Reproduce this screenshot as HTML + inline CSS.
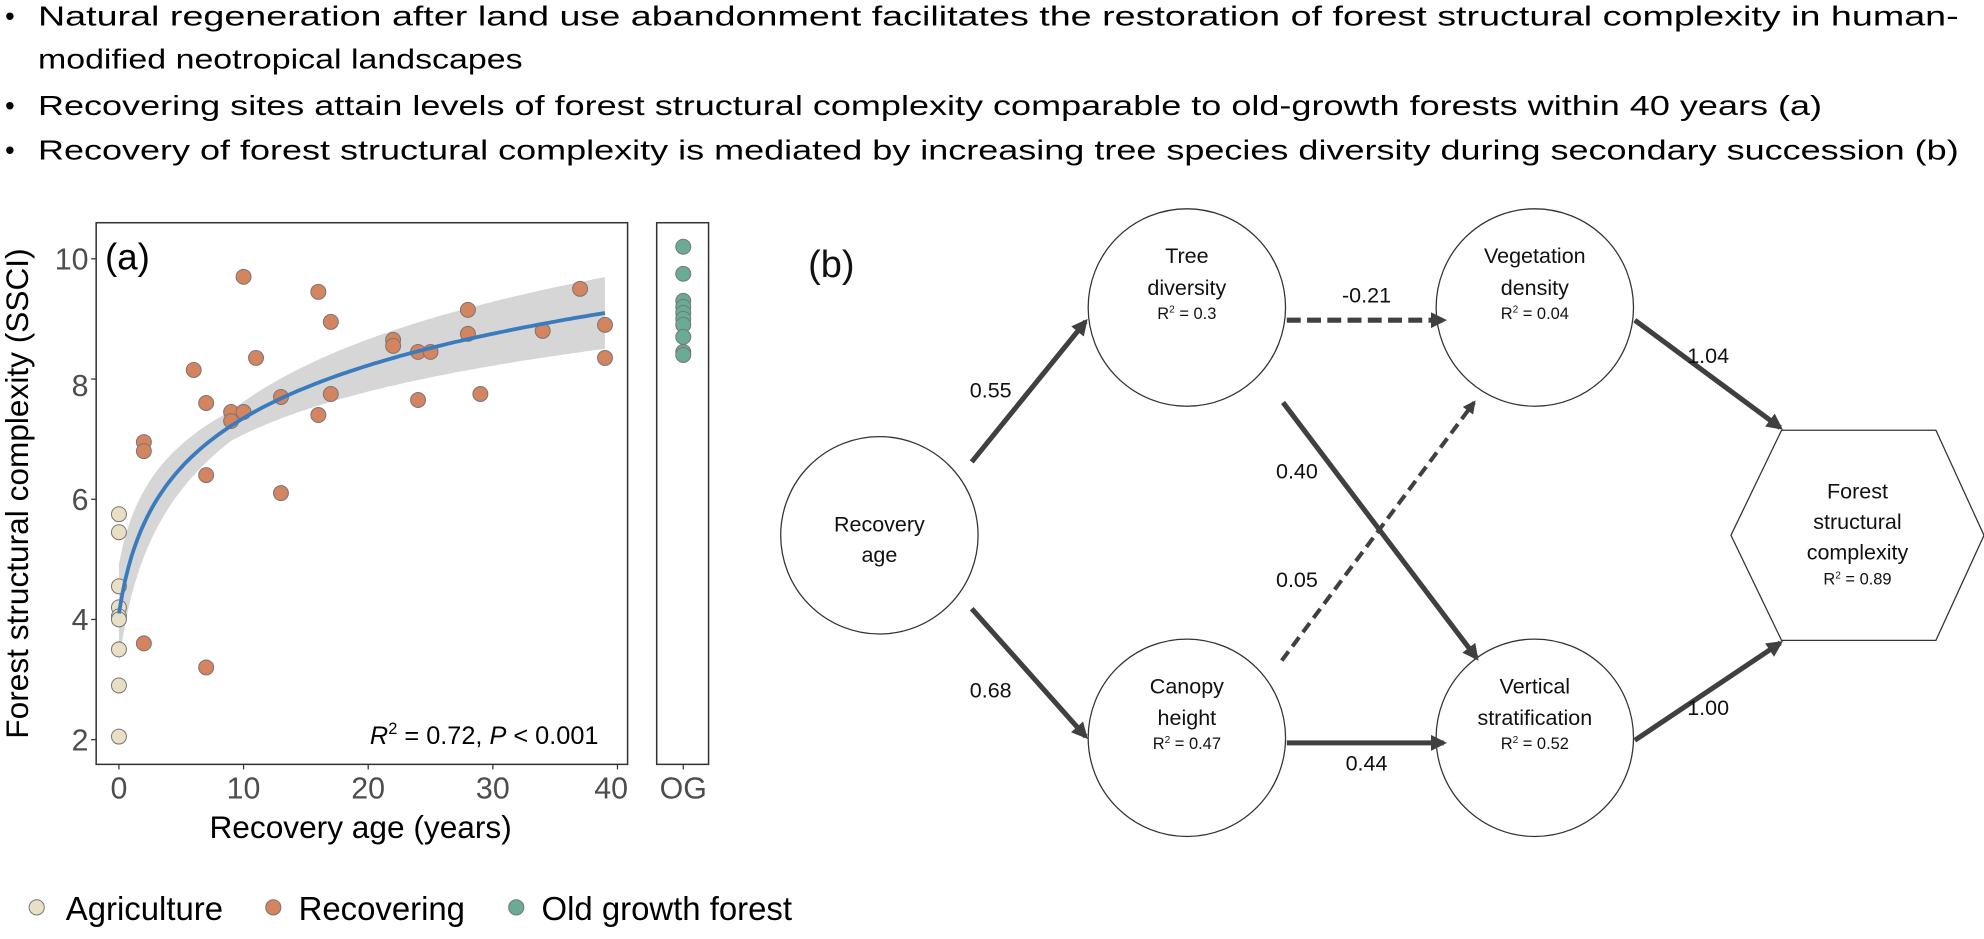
<!DOCTYPE html>
<html><head><meta charset="utf-8"><style>
html,body{margin:0;padding:0;background:#fff;}
svg{display:block;}
.n{font-family:"Liberation Sans",sans-serif;}
</style></head><body>
<svg width="1984" height="939" viewBox="0 0 1568 742" preserveAspectRatio="none" xmlns="http://www.w3.org/2000/svg">
<defs>
<marker id="ah" viewBox="0 0 10 10" refX="8" refY="5" markerWidth="3.2" markerHeight="3.2" orient="auto"><path d="M0,0 L10,5 L0,10 z" fill="#404040"/></marker>
</defs>
<g font-family="Liberation Sans, sans-serif" font-size="22" fill="#000">
<text x="4" y="20">•</text><text x="30" y="20" textLength="1518" lengthAdjust="spacingAndGlyphs">Natural regeneration after land use abandonment facilitates the restoration of forest structural complexity in human-</text>
<text x="30" y="54" textLength="383" lengthAdjust="spacingAndGlyphs">modified neotropical landscapes</text>
<text x="4" y="91">•</text><text x="30" y="91" textLength="1410" lengthAdjust="spacingAndGlyphs">Recovering sites attain levels of forest structural complexity comparable to old-growth forests within 40 years (a)</text>
<text x="4" y="126">•</text><text x="30" y="126" textLength="1518" lengthAdjust="spacingAndGlyphs">Recovery of forest structural complexity is mediated by increasing tree species diversity during secondary succession (b)</text>
</g>
<!-- panel a -->
<g font-family="Liberation Sans, sans-serif">
<path id="band" fill="#d6d6d6" d=""/>
<rect x="76" y="176" width="420" height="428" fill="none" stroke="#333" stroke-width="1.2"/>
<rect x="519" y="176" width="41" height="428" fill="none" stroke="#333" stroke-width="1.2"/>
<g id="pts"></g>
<text x="83" y="213" font-size="29">(a)</text>
<g font-size="24" fill="#4d4d4d" text-anchor="end">
<text x="70" y="213">10</text><text x="70" y="313">8</text><text x="70" y="403">6</text><text x="70" y="498">4</text><text x="70" y="593">2</text>
</g>
<g stroke="#333" stroke-width="1"><line x1="72" x2="76" y1="204.5" y2="204.5"/><line x1="72" x2="76" y1="299.5" y2="299.5"/><line x1="72" x2="76" y1="394.5" y2="394.5"/><line x1="72" x2="76" y1="489.5" y2="489.5"/><line x1="72" x2="76" y1="584.5" y2="584.5"/>
<line y1="604" y2="608" x1="94" x2="94"/><line y1="604" y2="608" x1="192.5" x2="192.5"/><line y1="604" y2="608" x1="291" x2="291"/><line y1="604" y2="608" x1="389.5" x2="389.5"/><line y1="604" y2="608" x1="488" x2="488"/><line y1="604" y2="608" x1="540" x2="540"/></g>
<g font-size="24" fill="#4d4d4d" text-anchor="middle">
<text x="94" y="631">0</text><text x="192.5" y="631">10</text><text x="291" y="631">20</text><text x="389.5" y="631">30</text><text x="483" y="631">40</text><text x="540" y="631">OG</text>
</g>
<text x="285" y="662" font-size="25" text-anchor="middle">Recovery age (years)</text>
<text transform="translate(22,390) rotate(-90)" font-size="25" text-anchor="middle">Forest structural complexity (SSCI)</text>
<text x="473" y="588" font-size="20" text-anchor="end"><tspan font-style="italic">R</tspan><tspan font-size="13" dy="-8">2</tspan><tspan dy="8"> = 0.72, </tspan><tspan font-style="italic">P</tspan> &lt; 0.001</text>
<g font-size="26">
<circle cx="29" cy="717" r="6" fill="#e8dfc4" stroke="#777" stroke-width="0.8"/><text x="52" y="727">Agriculture</text>
<circle cx="216" cy="717" r="6" fill="#d4845e" stroke="#777" stroke-width="0.8"/><text x="236" y="727">Recovering</text>
<circle cx="408" cy="717" r="6" fill="#6aab95" stroke="#777" stroke-width="0.8"/><text x="428" y="727">Old growth forest</text>
</g>
</g>
<!-- panel b -->
<g class="n" fill="none" stroke="#333" stroke-width="1">
<circle cx="695" cy="423" r="78"/>
<circle cx="938" cy="243" r="78"/>
<circle cx="1213" cy="243" r="78"/>
<circle cx="938" cy="583" r="78"/>
<circle cx="1213" cy="583" r="78"/>
<polygon points="1368,423 1408,340 1530,340 1568,423 1530,506 1408,506"/>
</g>
<g stroke="#404040" stroke-width="4" fill="none" marker-end="url(#ah)">
<line x1="768" y1="365" x2="858" y2="254"/>
<line x1="768" y1="481" x2="858" y2="582"/>
<line x1="1017" y1="253" x2="1141" y2="253" stroke-dasharray="11,5"/>
<line x1="1014" y1="318" x2="1167" y2="520"/>
<line x1="1013" y1="522" x2="1165" y2="318" stroke-dasharray="9,5" stroke-width="3.2"/>
<line x1="1017" y1="587" x2="1141" y2="587"/>
<line x1="1292" y1="253" x2="1407" y2="338"/>
<line x1="1292" y1="585" x2="1407" y2="508"/>
</g>
<g class="n" font-size="17" fill="#111" text-anchor="middle">
<text x="657" y="219" font-size="30" font-family="Liberation Sans, sans-serif">(b)</text>
<text x="695" y="420">Recovery</text><text x="695" y="444">age</text>
<text x="938" y="208">Tree</text><text x="938" y="233">diversity</text><text x="938" y="252" font-size="13">R<tspan font-size="8" dy="-5">2</tspan><tspan dy="5"> = 0.3</tspan></text>
<text x="1213" y="208">Vegetation</text><text x="1213" y="233">density</text><text x="1213" y="252" font-size="13">R<tspan font-size="8" dy="-5">2</tspan><tspan dy="5"> = 0.04</tspan></text>
<text x="938" y="548">Canopy</text><text x="938" y="573">height</text><text x="938" y="592" font-size="13">R<tspan font-size="8" dy="-5">2</tspan><tspan dy="5"> = 0.47</tspan></text>
<text x="1213" y="548">Vertical</text><text x="1213" y="573">stratification</text><text x="1213" y="592" font-size="13">R<tspan font-size="8" dy="-5">2</tspan><tspan dy="5"> = 0.52</tspan></text>
<text x="1468" y="394">Forest</text><text x="1468" y="418">structural</text><text x="1468" y="442">complexity</text><text x="1468" y="462" font-size="13">R<tspan font-size="8" dy="-5">2</tspan><tspan dy="5"> = 0.89</tspan></text>
<text x="783" y="314">0.55</text><text x="783" y="551">0.68</text>
<text x="1080" y="239">-0.21</text><text x="1080" y="609">0.44</text>
<text x="1025" y="378">0.40</text><text x="1025" y="464">0.05</text>
<text x="1350" y="287">1.04</text><text x="1350" y="565">1.00</text>
</g>
<path id="fit" fill="none" stroke="#3a7bbd" stroke-width="3" d=""/>
<script>
(function(){
var X=function(t){return 94+t*9.85;},Y=function(v){return 584.4-(v-2)*47.49;};
var f=function(t){return 4.1+1.355*Math.log(t+1);};
var se=function(t){return 0.25+0.35*Math.abs(Math.log((t+1)/10))/1.4;};
var up=[],lo=[],ln=[];
for(var t=0;t<=39.01;t+=0.25){up.push(X(t).toFixed(1)+','+Y(f(t)+se(t)).toFixed(1));lo.push(X(t).toFixed(1)+','+Y(f(t)-se(t)).toFixed(1));ln.push(X(t).toFixed(1)+','+Y(f(t)).toFixed(1));}
document.getElementById('band').setAttribute('d','M'+up.join(' L')+' L'+lo.reverse().join(' L')+'Z');
document.getElementById('fit').setAttribute('d','M'+ln.join(' L'));
var g=document.getElementById('pts'),ns='http://www.w3.org/2000/svg';
function c(x,y,fill){var e=document.createElementNS(ns,'circle');e.setAttribute('cx',x);e.setAttribute('cy',y);e.setAttribute('r',5.9);e.setAttribute('fill',fill);e.setAttribute('stroke','#777');e.setAttribute('stroke-width','0.8');g.appendChild(e);}
[5.75,5.45,4.55,4.2,4.05,4.0,3.5,2.9,2.05].forEach(function(v){c(X(0),Y(v),'#e8dfc4');});
[[2,6.95],[2,6.8],[2,3.6],[6,8.15],[7,7.6],[7,6.4],[7,3.2],[9,7.45],[9,7.3],[10,9.7],[10,7.45],[11,8.35],[13,7.7],[13,6.1],[16,9.45],[16,7.4],[17,8.95],[17,7.75],[22,8.65],[22,8.55],[24,8.45],[24,7.65],[25,8.45],[28,9.15],[28,8.75],[29,7.75],[34,8.8],[37,9.5],[39,8.9],[39,8.35]].forEach(function(p){c(X(p[0]),Y(p[1]),'#d4845e');});
[10.2,9.75,9.3,9.2,9.1,9.0,8.9,8.7,8.45,8.4].forEach(function(v){c(540,Y(v),'#6aab95');});
g.parentNode.appendChild(document.getElementById('fit'));
})();
</script>
</svg>
</body></html>
